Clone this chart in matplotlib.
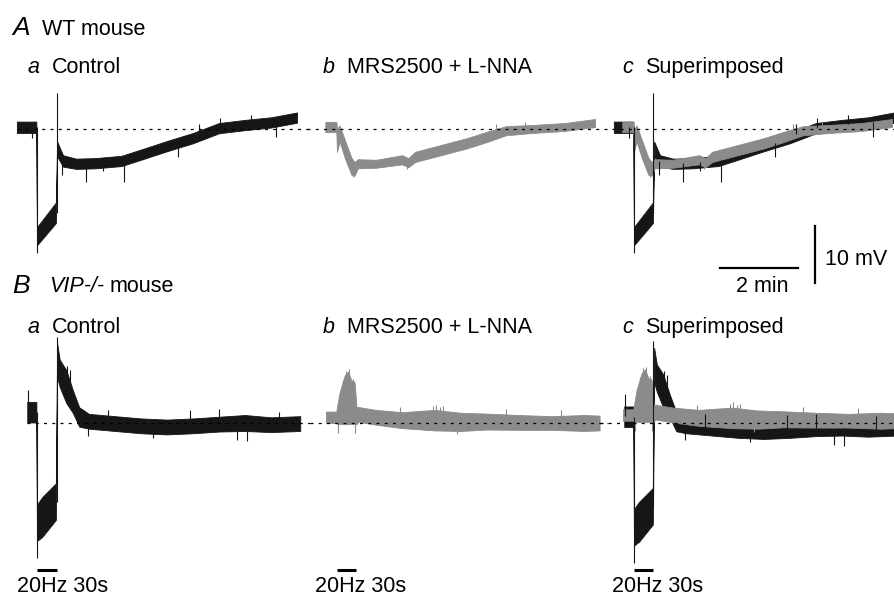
import numpy as np
import matplotlib.pyplot as plt

plt.rcParams['font.family'] = ['Liberation Sans', 'DejaVu Sans']

# figure size in pixels and trace scaling (px per second / px per mV)
W, H = 895, 598
PX_S = 0.65
PX_MV = 5.7

BLACK = '#161616'
GREY = '#8b8b8b'

# -----------------------------
# Traces: time (s, 0 = stimulus onset), mean potential (mV), noise half-width (mV)
# -----------------------------
# A: WT mouse, control
wt_ctrl_t = [-31, -1, 0, 29, 31, 40, 60, 90, 130, 160, 200, 240, 280, 320, 360, 400]
wt_ctrl_v = [0.3, 0.3, -18.8, -14.7, -3.5, -5.6, -6.1, -6.0, -5.6, -4.5, -3.0, -1.6, 0.15, 0.7, 1.15, 2.0]
wt_ctrl_hw = [1.0, 1.0, 1.6, 1.8, 1.3, 1.0, 0.9, 0.9, 0.9, 0.9, 0.9, 0.9, 0.9, 0.9, 0.9, 0.9]
# spikes: time, from, to
wt_ctrl_spk_t = [0, 30, -7, 38, 75, 102, 134, 217, 282, 368, 250, 330]
wt_ctrl_spk_a = [0.3, -14.7, 0.3, -5.6, -6.0, -5.8, -5.5, -2.5, 0.2, 1.3, -0.8, 0.8]
wt_ctrl_spk_b = [-21.8, 6.3, -1.6, -8.0, -9.3, -7.4, -9.3, -4.9, 1.9, -1.4, 0.9, 2.5]

# A: WT mouse, MRS2500 + L-NNA
wt_drug_t = [-18, -1, 0, 4, 12, 22, 27, 32, 60, 100, 110, 120, 160, 200, 230, 260, 300, 350, 397]
wt_drug_v = [0.35, 0.35, -2.0, -0.8, -3.5, -6.5, -7.0, -6.1, -6.1, -5.4, -5.9, -4.9, -3.7, -2.5, -1.4, -0.3, 0.0, 0.35, 1.05]
wt_drug_hw = [0.9, 0.9, 2.0, 1.4, 1.6, 1.5, 1.2, 0.8, 0.7, 0.8, 0.8, 0.9, 0.9, 0.9, 0.9, 0.8, 0.7, 0.7, 0.7]
wt_drug_spk_t = [25, 108, 245, 290]
wt_drug_spk_a = [-7.0, -5.6, -0.8, 0.0]
wt_drug_spk_b = [-8.4, -7.0, 0.8, 1.3]

# B: VIP-/- mouse, control
ko_ctrl_t = [-15, -1, 0, 8, 29, 31, 35, 45, 55, 65, 80, 120, 160, 200, 240, 280, 320, 360, 405]
ko_ctrl_v = [1.9, 1.9, -17.5, -16.5, -13.8, 11.0, 8.7, 6.4, 3.8, 1.05, 0.3, -0.1, -0.5, -0.7, -0.5, -0.2, 0.0, -0.3, -0.1]
ko_ctrl_hw = [1.8, 1.8, 3.2, 3.5, 3.2, 3.0, 2.4, 2.9, 2.0, 1.7, 1.3, 1.3, 1.3, 1.3, 1.3, 1.3, 1.4, 1.3, 1.3]
ko_ctrl_spk_t = [0, 30, -14, 46, 51, 79, 110, 179, 235, 280, 308, 323, 372]
ko_ctrl_spk_a = [1.9, -13.8, 2.0, 6.0, 5.0, 0.3, 0.0, -0.6, -0.5, -0.2, -0.5, 0.0, -0.3]
ko_ctrl_spk_b = [-23.7, 15.1, 5.8, 10.0, 9.3, -2.2, 2.3, -2.6, 2.2, 2.4, -3.0, -3.2, 2.0]

# B: VIP-/- mouse, MRS2500 + L-NNA
ko_drug_t = [-17, -1, 0, 4, 12, 17, 22, 27, 30, 33, 60, 100, 150, 190, 230, 280, 330, 380, 404]
ko_drug_v = [1.0, 1.0, 1.3, 2.6, 4.1, 4.4, 3.65, 3.5, 1.3, 1.5, 1.0, 0.5, 0.5, 0.2, 0.25, 0.1, 0.0, 0.0, 0.0]
ko_drug_hw = [1.0, 1.0, 1.5, 2.8, 4.3, 4.6, 3.85, 3.7, 1.5, 1.3, 1.3, 1.4, 1.8, 1.6, 1.4, 1.3, 1.2, 1.4, 1.3]
ko_drug_spk_t = [1, 10, 14, 18, 24, 28, 97, 148, 152, 158, 163, 184, 260, 345]
ko_drug_spk_a = [0.5, 4.0, 4.3, 4.4, 3.6, 1.5, 0.5, 0.5, 0.5, 0.5, 0.4, 0.2, 0.1, 0.0]
ko_drug_spk_b = [-1.8, 7.6, 9.2, 9.4, 7.8, -1.8, 2.8, 3.0, 3.2, 2.8, 3.0, -2.0, 2.4, 2.2]

# stimulation and scale bars
STIM_LEN = 30      # s
SCALE_T = 120      # s (2 min)
SCALE_V = 10       # mV

fig = plt.figure(figsize=(W / 100, H / 100), dpi=100)


def panel(x0, y0, t_lo=-60, t_hi=430, v_lo=-32, v_hi=20):
    # axes placed so that t=0 sits at pixel x0 and 0 mV at pixel y0
    left = x0 + t_lo * PX_S
    ax = fig.add_axes([left / W, 1 - (y0 - v_lo * PX_MV) / H,
                       (t_hi - t_lo) * PX_S / W, (v_hi - v_lo) * PX_MV / H])
    ax.set_xlim(t_lo, t_hi)
    ax.set_ylim(v_lo, v_hi)
    ax.axis('off')
    ax.patch.set_alpha(0)
    return ax


def trace(ax, t, v, hw, color, shift=0.0, spk=None):
    t = np.array(t, float)
    v = np.array(v, float) + shift
    hw = np.array(hw, float)
    ax.fill_between(t, v - hw, v + hw, color=color, lw=0.6, ec=color)
    if spk is not None:
        ax.vlines(spk[0], np.array(spk[1]) + shift, np.array(spk[2]) + shift,
                  color=color, lw=0.8)


def baseline(ax, t0, t1):
    ax.plot([t0, t1], [0, 0], color='black', lw=0.9, ls=(0, (2.4, 4.2)), zorder=5)


def txt(x, y, s, size=15.5, style='normal'):
    fig.text(x / W, 1 - y / H, s, fontsize=size, style=style, va='baseline', ha='left')


wt_spk = (wt_ctrl_spk_t, wt_ctrl_spk_a, wt_ctrl_spk_b)
wt_dspk = (wt_drug_spk_t, wt_drug_spk_a, wt_drug_spk_b)
ko_spk = (ko_ctrl_spk_t, ko_ctrl_spk_a, ko_ctrl_spk_b)
ko_dspk = (ko_drug_spk_t, ko_drug_spk_a, ko_drug_spk_b)

# ---- Row A ----
ax = panel(37, 129)
trace(ax, wt_ctrl_t, wt_ctrl_v, wt_ctrl_hw, BLACK, spk=wt_spk)
baseline(ax, -31, 420)

ax = panel(337, 129)
trace(ax, wt_drug_t, wt_drug_v, wt_drug_hw, GREY, spk=wt_dspk)
baseline(ax, -46, 417)

ax = panel(634, 129)
trace(ax, wt_ctrl_t, wt_ctrl_v, wt_ctrl_hw, BLACK, spk=wt_spk)
trace(ax, wt_drug_t, wt_drug_v, wt_drug_hw, GREY, spk=wt_dspk)
baseline(ax, -34, 402)
# scale bars
ax.plot([132, 132 + SCALE_T], [-24.4, -24.4], color='black', lw=1.6)
ax.plot([278, 278], [-17.1, -17.1 - SCALE_V], color='black', lw=1.6)

# ---- Row B ----
for x0, label_x in [(37, 17), (337, 315), (634, 612)]:
    ax = panel(x0, 423)
    if x0 == 37:
        trace(ax, ko_ctrl_t, ko_ctrl_v, ko_ctrl_hw, BLACK, spk=ko_spk)
        baseline(ax, -15, 420)
    elif x0 == 337:
        trace(ax, ko_drug_t, ko_drug_v, ko_drug_hw, GREY, spk=ko_dspk)
        baseline(ax, -42, 417)
    else:
        trace(ax, ko_ctrl_t, ko_ctrl_v, ko_ctrl_hw, BLACK, shift=-0.8, spk=ko_spk)
        trace(ax, ko_drug_t, ko_drug_v, ko_drug_hw, GREY, shift=0.4, spk=ko_dspk)
        baseline(ax, -52, 402)
    ax.plot([0, STIM_LEN], [-25.8, -25.8], color='black', lw=2.2, solid_capstyle='butt')
    txt(label_x, 592, '20Hz 30s')

# ---- Labels ----
txt(12, 35, 'A', size=19, style='italic')
txt(42, 35, 'WT mouse')
txt(12, 293, 'B', size=19, style='italic')
txt(49, 292, 'VIP-/-', style='italic')
txt(110, 292, 'mouse')

for y in (73, 333):
    txt(28, y, 'a', style='italic')
    txt(52, y, 'Control')
    txt(323, y, 'b', style='italic')
    txt(347, y, 'MRS2500 + L-NNA')
    txt(622, y, 'c', style='italic')
    txt(645, y, 'Superimposed')

fig.text(762 / W, 1 - 292 / H, '2 min', fontsize=15.5, ha='center', va='baseline')
txt(825, 265, '10 mV')

fig.savefig('out.png', dpi=100)
